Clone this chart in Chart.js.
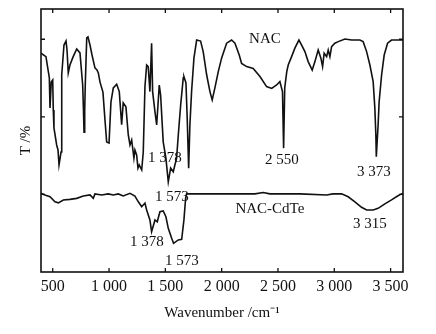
<!DOCTYPE html>
<html>
<head>
<meta charset="utf-8">
<script src="https://cdn.jsdelivr.net/npm/chart.js@4"></script>
<style>
  html, body { margin: 0; padding: 0; background: #fff; }
  #wrap { width: 436px; height: 334px; }
</style>
</head>
<body>
<div id="wrap"><canvas id="ftir" width="436" height="334"></canvas></div>
<script>
// NAC spectrum (upper trace)
const nacWave = [396, 440, 470, 476, 487, 500, 505, 511, 535, 547, 556, 574, 580, 600, 618, 627, 638, 653, 680, 713,
    742, 766, 773, 778, 784, 789, 802, 813, 831, 849, 875, 893, 905, 920, 946, 964, 979, 1000, 1017, 1038,
    1068, 1091, 1112, 1126, 1150, 1171, 1186, 1201, 1221, 1230, 1245, 1257, 1268, 1290, 1304, 1319, 1334, 1348, 1363, 1378,
    1387, 1408, 1423, 1446, 1458, 1481, 1505, 1526, 1547, 1570, 1600, 1615, 1636, 1659, 1665, 1683, 1694, 1707, 1718, 1733,
    1754, 1778, 1813, 1836, 1867, 1896, 1916, 1940, 1970, 2000, 2044, 2088, 2118, 2156, 2177, 2222, 2280, 2340, 2399, 2444,
    2488, 2517, 2540, 2550, 2560, 2578, 2591, 2621, 2650, 2686, 2710, 2739, 2768, 2804, 2828, 2857, 2881, 2896, 2910, 2932,
    2946, 2961, 2976, 3005, 3035, 3094, 3154, 3227, 3256, 3287, 3316, 3345, 3360, 3369, 3373, 3389, 3398, 3420, 3443, 3473,
    3508, 3582, 3609];
const nacT = [83.2, 81.9, 73.8, 62.4, 72.2, 73.0, 61.6, 54.8, 48.3, 46.4, 40.7, 45.6, 74.9, 86.3, 87.8, 84.4, 75.7, 78.7, 81.7, 84.8,
    83.3, 71.1, 61.6, 53.2, 61.6, 71.1, 89.0, 89.4, 86.3, 82.5, 77.6, 76.8, 75.7, 72.2, 68.4, 57.8, 49.4, 49.0, 64.6, 70.0,
    71.4, 68.6, 56.0, 64.3, 62.8, 52.1, 48.3, 50.2, 43.3, 46.4, 44.5, 39.5, 40.7, 38.8, 45.6, 70.5, 78.7, 78.1, 68.6, 87.0,
    68.6, 60.9, 55.9, 71.1, 67.3, 49.5, 43.3, 34.3, 39.5, 38.1, 43.3, 52.1, 63.5, 73.8, 74.3, 71.9, 58.6, 39.5, 55.9, 68.6,
    81.4, 88.2, 87.8, 83.8, 74.9, 68.6, 65.4, 70.0, 76.2, 81.4, 87.0, 88.2, 87.0, 82.5, 79.3, 78.1, 77.4, 74.3, 70.5, 69.8,
    71.1, 72.4, 68.6, 47.1, 70.0, 76.2, 78.7, 81.9, 85.1, 88.2, 86.3, 83.8, 80.0, 76.8, 80.0, 84.4, 81.3, 78.1, 83.2, 81.9,
    84.4, 81.9, 85.7, 87.0, 87.6, 88.6, 88.2, 88.2, 87.6, 83.8, 78.7, 72.4, 62.4, 52.1, 43.8, 55.9, 64.7, 74.9, 82.5, 87.0,
    88.2, 88.2, 88.2];

// NAC-CdTe spectrum (lower trace)
const cdteWave = [396, 431, 476, 520, 550, 594, 653, 713, 771, 831, 860, 875, 935, 993, 1038, 1082, 1126, 1186, 1230, 1260,
    1290, 1319, 1334, 1363, 1378, 1408, 1428, 1452, 1481, 1505, 1526, 1556, 1573, 1615, 1645, 1665, 1680, 1689, 1985, 2295,
    2369, 2428, 2695, 2932, 2988, 3065, 3123, 3183, 3242, 3287, 3316, 3345, 3389, 3449, 3508, 3562, 3597, 3610];
const cdteT = [29.9, 29.3, 28.6, 26.7, 26.3, 27.4, 27.6, 28.0, 28.9, 29.3, 28.0, 29.7, 29.3, 29.7, 29.3, 29.7, 28.9, 29.9, 28.9, 26.7,
    24.8, 26.2, 23.6, 19.8, 15.3, 19.8, 19.1, 22.9, 23.2, 21.0, 16.6, 12.8, 10.9, 12.2, 12.4, 19.8, 28.0, 29.7, 29.7, 29.7,
    30.2, 29.7, 29.7, 29.3, 29.7, 29.7, 28.6, 26.7, 24.6, 23.6, 23.6, 23.6, 24.2, 25.9, 27.4, 28.9, 29.7, 29.9];

const xTicks = [500, 1000, 1500, 2000, 2500, 3000, 3500];
const yTicks = [29.5, 59, 88.5];

// peak notes, centred on (wave, T)
const noteText = ['NAC', '1 378', '2 550', '3 373', '1 573', 'NAC-CdTe', '3 315', '1 378', '1 573'];
const noteWave = [2384, 1496, 2535, 3351, 1559, 2428, 3316, 1337, 1647];
const noteT = [88.6, 43.3, 42.6, 38.0, 28.5, 24.0, 18.3, 11.4, 4.2];

function fmtWave(v) {
    if (v < 1000) return String(v);
    return Math.floor(v / 1000) + ' ' + String(v % 1000).padStart(3, '0');
}

const frameAndNotes = {
    id: 'frameAndNotes',
    afterDraw(chart) {
        const ctx = chart.ctx;
        const a = chart.chartArea;
        const xs = chart.scales.x;
        const ys = chart.scales.y;
        ctx.save();
        ctx.strokeStyle = '#111';
        ctx.lineWidth = 1.6;
        ctx.strokeRect(a.left, a.top, a.right - a.left, a.bottom - a.top);
        ctx.lineWidth = 1.3;
        ctx.beginPath();
        xTicks.forEach(v => {
            const px = xs.getPixelForValue(v);
            ctx.moveTo(px, a.bottom); ctx.lineTo(px, a.bottom - 4);
            ctx.moveTo(px, a.top); ctx.lineTo(px, a.top + 4);
        });
        yTicks.forEach(v => {
            const py = ys.getPixelForValue(v);
            ctx.moveTo(a.left, py); ctx.lineTo(a.left + 4, py);
            ctx.moveTo(a.right, py); ctx.lineTo(a.right - 4, py);
        });
        ctx.stroke();

        ctx.fillStyle = '#111';
        ctx.font = '15px "Liberation Serif", serif';
        ctx.textAlign = 'center';
        ctx.textBaseline = 'middle';
        noteText.forEach((t, i) => {
            ctx.fillText(t, xs.getPixelForValue(noteWave[i]), ys.getPixelForValue(noteT[i]));
        });
        ctx.restore();
    }
};

const ctx = document.getElementById('ftir').getContext('2d');
new Chart(ctx, {
    type: 'line',
    data: {
        datasets: [{
            label: 'NAC',
            data: nacWave.map((w, i) => ({ x: w, y: nacT[i] })),
            borderColor: '#111',
            borderWidth: 1.6,
            pointRadius: 0,
            tension: 0
        }, {
            label: 'NAC-CdTe',
            data: cdteWave.map((w, i) => ({ x: w, y: cdteT[i] })),
            borderColor: '#111',
            borderWidth: 1.6,
            pointRadius: 0,
            tension: 0
        }]
    },
    options: {
        responsive: false,
        animation: false,
        layout: { padding: { top: 9, right: 33, left: 0, bottom: 0 } },
        plugins: {
            legend: { display: false },
            tooltip: { enabled: false }
        },
        scales: {
            x: {
                type: 'linear',
                min: 396,
                max: 3610,
                grid: { display: false, drawTicks: false, tickLength: 0 },
                border: { display: false },
                afterBuildTicks: s => { s.ticks = xTicks.map(v => ({ value: v })); },
                afterFit: s => { s.height = 62; },
                ticks: {
                    color: '#111',
                    padding: 5,
                    maxRotation: 0,
                    font: { family: '"Liberation Serif", serif', size: 16 },
                    callback: v => fmtWave(v)
                },
                title: {
                    display: true,
                    text: 'Wavenumber /cm⁻¹',
                    color: '#111',
                    padding: { top: 0, bottom: 12 },
                    font: { family: '"Liberation Serif", serif', size: 15 }
                }
            },
            y: {
                min: 0,
                max: 100,
                grid: { display: false },
                border: { display: false },
                afterFit: s => { s.width = 41; },
                ticks: { display: false },
                title: {
                    display: true,
                    text: 'T /%',
                    color: '#111',
                    padding: { top: 17, bottom: 0 },
                    font: { family: '"Liberation Serif", serif', size: 15 }
                }
            }
        }
    },
    plugins: [frameAndNotes]
});
</script>
</body>
</html>
